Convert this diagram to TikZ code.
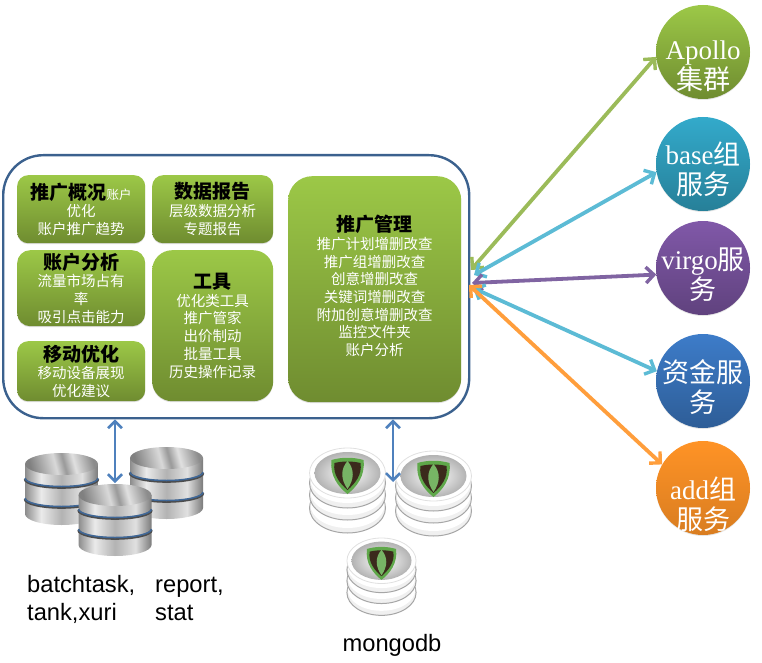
\documentclass[tikz,border=0pt]{standalone}
\usepackage{fontspec}
\setmainfont{Liberation Serif}
\setsansfont{Liberation Sans}
\newfontfamily\cjk{Noto Sans CJK SC}
\usetikzlibrary{arrows.meta,shadows}
\definecolor{green1}{HTML}{9CC847}
\definecolor{green2}{HTML}{6F8C30}
\definecolor{arrowblue}{HTML}{4F81BD}
\definecolor{arrowgreen}{HTML}{9BBB59}
\definecolor{arrowpurple}{HTML}{8064A2}
\definecolor{svcteal}{HTML}{33AACB}
\definecolor{svcpurple}{HTML}{8058A8}
\definecolor{svcblue}{HTML}{3D7CC9}
\definecolor{svcorange}{HTML}{FF9326}
\definecolor{mongogreen}{HTML}{5FA84A}
\definecolor{mongobrown}{HTML}{3B2A1C}
\pgfdeclarehorizontalshading{silverside}{100bp}{
  color(0bp)=(black!45); color(25bp)=(black!45); color(36bp)=(black!8);
  color(50bp)=(black!30); color(64bp)=(black!12); color(75bp)=(black!52); color(100bp)=(black!52)}
\pgfdeclarehorizontalshading{silvertop}{100bp}{
  color(0bp)=(black!50); color(25bp)=(black!50); color(45bp)=(black!15);
  color(52bp)=(black!40); color(60bp)=(black!12); color(75bp)=(black!45); color(100bp)=(black!45)}
\newcommand{\boxtitle}[1]{{\color{black}\bfseries\fontsize{19}{19}\selectfont #1}}
\tikzset{
  greenbox/.style={anchor=north west,inner sep=0pt,align=center,text=white,
    top color=green1,bottom color=green2,
    drop shadow={shadow xshift=0pt,shadow yshift=-1pt,opacity=.25},
    font=\cjk\fontsize{14.5}{17.7}\selectfont},
  svccircle/.style={circle,minimum size=94pt,inner sep=0pt,
    drop shadow={shadow xshift=0pt,shadow yshift=-1pt,opacity=.2}},
  svclabel/.style={align=center,text=white,inner sep=0pt,font=\fontsize{27}{30}\selectfont},
  svcarrow/.style={<->,>={Straight Barb[length=8pt,width=16pt,line width=3.4pt]},line width=3.8pt},
  dbarrow/.style={<->,>={Straight Barb[length=7pt,width=14pt,line width=2.6pt]},line width=2.8pt,color=arrowblue},
  dblabel/.style={anchor=base west,inner sep=0pt,font=\sffamily\fontsize{23.7}{28}\selectfont,align=left},
  dbstack/.pic={
    \shade[shading=silverside] (-36.5,11) -- (-36.5,61) arc[start angle=180,end angle=0,x radius=36.5,y radius=11] -- (36.5,11) -- cycle;
    \draw[black!70,line width=2.6pt] (-36.5,26) arc[start angle=180,end angle=0,x radius=36.5,y radius=8.5];
    \draw[black!70,line width=2.6pt] (-36.5,46) arc[start angle=180,end angle=0,x radius=36.5,y radius=8.5];
    \draw[arrowblue!80!black,line width=1.5pt] (-36.5,25) arc[start angle=180,end angle=0,x radius=36.5,y radius=8.5];
    \draw[arrowblue!80!black,line width=1.5pt] (-36.5,45) arc[start angle=180,end angle=0,x radius=36.5,y radius=8.5];
    \shade[shading=silvertop,shading angle=15] (0,11) ellipse[x radius=36.5,y radius=11];
  },
  mongostack/.pic={
    \foreach \ringy in {60,47,35}{
      \draw[fill=black!6,draw=black!35,line width=1pt] (0,\ringy) ellipse[x radius=38,y radius=25];
      \fill[white] (0,\ringy-3) ellipse[x radius=37,y radius=23];
    }
    \draw[fill=white,draw=black!12,line width=.8pt] (0,25) ellipse[x radius=38,y radius=25];
    \shade[inner color=white,outer color=gray!60] (0,25) ellipse[x radius=33,y radius=21];
    \fill[mongogreen] (-16,12) .. controls (-6,9) and (6,9) .. (16,12) .. controls (18,28) and (9,39) .. (0,46) .. controls (-9,39) and (-18,28) .. (-16,12) -- cycle;
    \fill[mongobrown] (-13,15) .. controls (-5,13) and (5,13) .. (13,15) .. controls (15,27) and (7,36) .. (0,42) .. controls (-7,36) and (-15,27) .. (-13,15) -- cycle;
    \fill[mongogreen!85!white] (0,13) .. controls (-7,21) and (-7,31) .. (0,41) .. controls (7,31) and (7,21) .. (0,13) -- cycle;
  }
}
\begin{document}
\begin{tikzpicture}[x=1pt,y=-1pt]
  \useasboundingbox (0,0) rectangle (762,663);
  \node[anchor=north west,inner sep=0pt,minimum width=466pt,minimum height=263pt,rounded corners=40pt,
    fill=white,draw=arrowblue!75!black,line width=2.4pt] (panel) at (2,154) {};
  \node[greenbox,minimum width=128pt,minimum height=68pt,rounded corners=11pt] (overview) at (17,175)
    {\boxtitle{推广概况}{\fontsize{12.5}{15}\selectfont 账户}\\优化\\账户推广趋势};
  \node[greenbox,minimum width=121pt,minimum height=68pt,rounded corners=11pt] (datareport) at (152,175)
    {\boxtitle{数据报告}\\层级数据分析\\专题报告};
  \node[greenbox,minimum width=128pt,minimum height=76pt,rounded corners=13pt] (account) at (17,250)
    {\boxtitle{账户分析}\\流量市场占有\\率\\吸引点击能力};
  \node[greenbox,minimum width=128pt,minimum height=60pt,rounded corners=11pt] (mobile) at (17,341)
    {\boxtitle{移动优化}\\移动设备展现\\优化建议};
  \node[greenbox,minimum width=121pt,minimum height=151pt,rounded corners=20pt] (tools) at (152,250)
    {\boxtitle{工具}\\优化类工具\\推广管家\\出价制动\\批量工具\\历史操作记录};
  \node[greenbox,minimum width=173pt,minimum height=226pt,rounded corners=24pt] (manage) at (288,176)
    {\boxtitle{推广管理}\\推广计划增删改查\\推广组增删改查\\创意增删改查\\关键词增删改查\\附加创意增删改查\\监控文件夹\\账户分析\\[-10pt]};
  \node[svccircle,top color=green1,bottom color=green2] (apollo) at (703,52) {};
  \node[svccircle,top color=svcteal,bottom color=svcteal!75!black] (base) at (703,164) {};
  \node[svccircle,top color=svcpurple,bottom color=svcpurple!75!black] (virgo) at (703,268) {};
  \node[svccircle,top color=svcblue,bottom color=svcblue!75!black] (fund) at (703,381) {};
  \node[svccircle,top color=svcorange,bottom color=svcorange!85!black] (add) at (703,488) {};
  \node[svclabel] (apollotxt) at (703,66) {Apollo\\{\cjk 集群}};
  \node[svclabel] (basetxt) at (703,169) {base{\cjk 组}\\{\cjk 服务}};
  \node[svclabel] (virgotxt) at (703,275) {virgo{\cjk 服}\\{\cjk 务}};
  \node[svclabel] (fundtxt) at (703,387) {{\cjk 资金服}\\{\cjk 务}};
  \node[svclabel] (addtxt) at (703,504) {add{\cjk 组}\\{\cjk 服务}};
  \coordinate (hubA) at (471,270);
  \coordinate (hubB) at (474,275);
  \coordinate (hubC) at (472,283);
  \coordinate (hubD) at (473,288);
  \coordinate (hubE) at (469,285);
  \draw[svcarrow,color=arrowgreen] (hubA) -- (apollo.186);
  \draw[svcarrow,color=svcteal!80!white] (hubB) -- (base.190);
  \draw[svcarrow,color=arrowpurple] (hubC) -- (virgo.188);
  \draw[svcarrow,color=svcteal!80!white] (hubD) -- (fund.168);
  \draw[svcarrow,color=svcorange!90!white] (hubE) -- (add.150);
  \pic at (61.5,453) {dbstack};
  \pic at (166.5,447) {dbstack};
  \pic at (115,484) {dbstack};
  \pic at (347.5,448) {mongostack};
  \pic at (433.5,451) {mongostack};
  \pic[scale=.91] at (381.5,538) {mongostack};
  \coordinate (dbtop) at (115,483);
  \coordinate (mongotop) at (393,482);
  \draw[dbarrow] (panel.south -| dbtop) -- (dbtop);
  \draw[dbarrow] (panel.south -| mongotop) -- (mongotop);
  \node[dblabel] (batchlbl) at (27,620) {batchtask,\\tank,xuri};
  \node[dblabel] (reportlbl) at (155,620) {report,\\stat};
  \node[dblabel,anchor=base] (mongolbl) at (392,651) {mongodb};
\end{tikzpicture}
\end{document}
